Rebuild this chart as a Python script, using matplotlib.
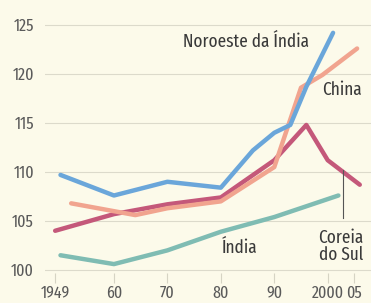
import matplotlib.pyplot as plt

# series (year, index value)
noroeste_years = [1950, 1960, 1970, 1980, 1986, 1990, 1993, 1996, 2001]
noroeste_vals = [109.7, 107.6, 109.0, 108.4, 112.2, 114.0, 114.8, 118.7, 124.2]

china_years = [1952, 1964, 1970, 1980, 1990, 1995, 1999, 2005.5]
china_vals = [106.8, 105.6, 106.3, 107.0, 110.5, 118.6, 119.9, 122.6]

coreia_years = [1949, 1960, 1970, 1980, 1990, 1996, 2000, 2006]
coreia_vals = [104.0, 105.7, 106.7, 107.4, 111.2, 114.8, 111.2, 108.7]

india_years = [1950, 1960, 1970, 1980, 1990, 2002]
india_vals = [101.5, 100.6, 102.0, 103.9, 105.4, 107.6]

x_ticks = [1949, 1960, 1970, 1980, 1990, 2000, 2005]
x_labels = ["1949", "60", "70", "80", "90", "2000", "05"]
y_ticks = [100, 105, 110, 115, 120, 125]

BG = "#fcfaea"
TXT = "#5a5a5a"
FONT = ["Fira Sans Extra Condensed", "Fira Sans Condensed", "DejaVu Sans"]

fig = plt.figure(figsize=(3.71, 3.03), dpi=100, facecolor=BG)
ax = fig.add_axes([45 / 371, 20 / 303, 326 / 371, 283 / 303])
ax.set_facecolor(BG)

for yv in y_ticks:
    ax.axhline(yv, color="#dcdacb", lw=0.8, zorder=1)

ax.plot(india_years, india_vals, color="#7fbcb3", lw=3.2, solid_capstyle="round", zorder=3)
ax.plot(coreia_years, coreia_vals, color="#c4587a", lw=3.2, solid_capstyle="round", zorder=3)
ax.plot(china_years, china_vals, color="#f1a48f", lw=3.2, solid_capstyle="round", zorder=4)
ax.plot(noroeste_years, noroeste_vals, color="#6aa6da", lw=3.2, solid_capstyle="round", zorder=5)

ax.set_xlim(1947.1, 2008.1)
ax.set_ylim(98.67, 127.55)

ax.set_xticks(x_ticks)
ax.set_xticklabels(x_labels)
ax.set_yticks(y_ticks)
ax.tick_params(axis="x", direction="in", length=7, width=0.8, color="#d6d4c4",
               labelsize=12.5, labelcolor=TXT, pad=2)
ax.tick_params(axis="y", length=0, labelsize=12.5, labelcolor=TXT, pad=8)
for lab in ax.get_xticklabels() + ax.get_yticklabels():
    lab.set_family(FONT)
for s in ax.spines.values():
    s.set_visible(False)

lab_kw = dict(family=FONT, fontsize=13.5, color="#3a3a3a")
ax.text(1996.5, 123.3, "Noroeste da Índia", ha="right", va="center", **lab_kw)
ax.text(1998.9, 118.4, "China", ha="left", va="center", **lab_kw)
ax.text(1980.2, 102.3, "Índia", ha="left", va="center", **lab_kw)
ax.text(2002.5, 102.4, "Coreia\ndo Sul", ha="center", va="center", linespacing=0.9, **lab_kw)
ax.plot([2002.8, 2002.8], [110.2, 105.3], color="#555555", lw=0.8, zorder=6)

fig.savefig("out.png", dpi=100, facecolor=BG)
